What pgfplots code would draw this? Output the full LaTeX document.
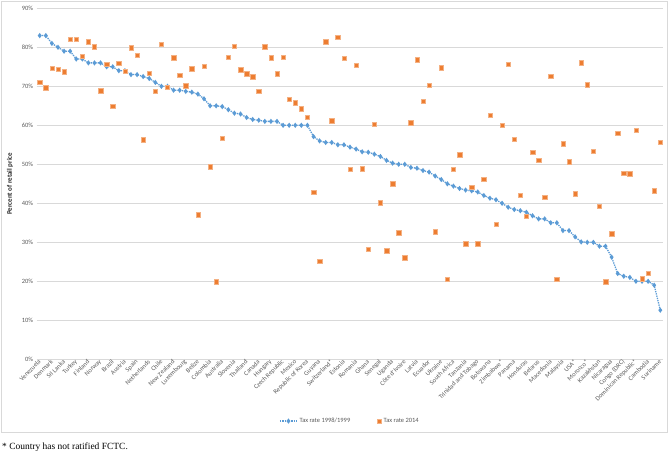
\documentclass[border=0pt]{standalone}
\usepackage{pgfplots}
\usepackage{pgfplotstable}
\pgfplotsset{compat=1.18}
\usepackage{fontspec}
\setmainfont{Carlito}
\newfontfamily\timesf{Liberation Serif}
\definecolor{xblue}{HTML}{5B9BD5}
\definecolor{xorange}{HTML}{ED7D31}
\definecolor{xgrid}{HTML}{D9D9D9}
\definecolor{xtext}{HTML}{595959}

\pgfplotstableread{
i v
0 83
1 83
2 81
3 80
4 79
5 79
6 77
7 77
8 76
9 76
10 76
11 75
12 75
13 74
14 74
15 73
16 73
17 72.5
18 72
19 71
20 70
21 70
22 69
23 69
24 68.7
25 68.5
26 68
27 66.8
28 65
29 65
30 64.8
31 64
32 63.1
33 62.9
34 62
35 61.5
36 61.3
37 61
38 61
39 61
40 60
41 60
42 60
43 60
44 60
45 57.1
46 56
47 55.6
48 55.6
49 55
50 55
51 54.4
52 53.9
53 53.2
54 53.1
55 52.6
56 52
57 51
58 50.3
59 50
60 50
61 49.2
62 49
63 48.4
64 48
65 47
66 46.1
67 45
68 44.4
69 43.8
70 43.4
71 43.2
72 42.9
73 42
74 41.3
75 40.9
76 40
77 39
78 38.4
79 38.1
80 37.7
81 36.8
82 36
83 36
84 35
85 35
86 33
87 33
88 31.4
89 30.1
90 30
91 30
92 29
93 29
94 26.2
95 22
96 21.3
97 21
98 20
99 20
100 20
101 19
102 12.6
}\rateold

\pgfplotstableread{
i v
0 71.0
1 69.6
2 74.7
3 74.4
4 73.7
5 82.1
6 82.1
7 77.7
8 81.4
9 80.2
10 68.9
11 75.6
12 64.9
13 75.9
14 73.9
15 79.9
16 78.0
17 56.3
18 73.4
19 68.8
20 80.8
21 69.8
22 77.3
23 72.8
24 70.2
25 74.5
26 37.1
27 75.2
28 49.4
29 19.9
30 56.7
31 77.4
32 80.3
33 74.3
34 73.2
35 72.5
36 68.8
37 80.2
38 77.3
39 73.2
40 77.4
41 66.7
42 65.8
43 64.3
44 62.0
45 42.9
46 25.1
47 81.4
48 61.2
49 82.6
50 77.2
51 48.7
52 75.4
53 48.9
54 28.3
55 60.3
56 40.2
57 27.8
58 45.0
59 32.5
60 26.1
61 60.7
62 76.8
63 66.2
64 70.3
65 32.7
66 74.8
67 20.6
68 48.7
69 52.5
70 29.6
71 44.1
72 29.6
73 46.2
74 62.6
75 34.7
76 60.0
77 75.7
78 56.5
79 42.0
80 36.7
81 53.1
82 51.1
83 41.5
84 72.6
85 20.6
86 55.3
87 50.7
88 42.5
89 76.0
90 70.4
91 53.3
92 39.3
93 19.9
94 32.2
95 57.9
96 47.7
97 47.6
98 58.8
99 20.7
100 22.0
101 43.2
102 55.7
}\ratenew

\begin{document}
\begin{tikzpicture}[x=1bp,y=1bp]
\useasboundingbox (0,0) rectangle (669,456);
\draw[xgrid, line width=0.75bp] (1.5,23.5) rectangle (667.5,455);
\begin{axis}[
  at={(36.7bp,96.7bp)}, anchor=south west,
  scale only axis, width=626.6bp, height=351bp,
  xmin=-0.5, xmax=102.5, ymin=0, ymax=90,
  ytick={0,10,...,90},
  yticklabel={\pgfmathprintnumber{\tick}\%},
  xtick={0,2,...,102},
  xticklabels={Venezuela,Denmark,Sri Lanka,Turkey,Finland,Norway,Brazil,Austria,Spain,Netherlands,Chile,New Zealand,Luxembourg,Belize,Colombia,Australia,Slovenia,Thailand,Canada,Hungary,Czech Republic,Mexico,Republic of Korea,Guyana,Switzerland*,Estonia,Romania,Ghana,Senegal,Uganda,Côte d’Ivoire,Latvia,Ecuador,Ukraine,South Africa,Tanzania,Trinidad and Tobago,Botswana,Zimbabwe*,Panama,Honduras,Belarus,Macedonia,Malaysia,USA*,Morocco*,Kazakhstan,Nicaragua,Congo (DRC),Dominican Republic*,Cambodia,Suriname},
  ymajorgrids, major grid style={xgrid, line width=0.75bp},
  axis line style={draw=none},
  major tick length=0pt,
  /pgf/number format/assume math mode=true,
  tick label style={font=\fontsize{6.5}{7}\selectfont, text=xtext},
  yticklabel style={inner sep=1bp, xshift=-2.5bp},
  xticklabel style={rotate=45, anchor=east, inner sep=1bp, yshift=-1bp},
  ylabel={Percent of retail price},
  ylabel style={at={(rel axis cs:-0.0426,0.5)}, anchor=center, rotate=0, font=\fontsize{7}{8}\selectfont\bfseries, text=black!85},
  legend style={at={(0.5,-0.176)}, anchor=center, legend columns=2, draw=none, fill=none,
    font=\fontsize{6.5}{7}\selectfont, text=xtext,
    /tikz/every even column/.append style={column sep=25bp}},
  legend cell align=left,
]
\addplot[xblue, densely dotted, line width=1.3bp, mark=diamond*, mark size=1.6bp, mark options={solid}] table[x=i,y=v]{\rateold};
\addlegendentry{Tax rate 1998/1999}
\addplot[only marks, mark=square*, mark size=2.2bp, mark options={fill=xorange, draw=xorange!60!white, line width=0.4bp}] table[x=i,y=v]{\ratenew};
\addlegendentry{Tax rate 2014}
\end{axis}
\node[anchor=west, inner sep=0pt, font=\timesf\fontsize{9.5}{11}\selectfont] at (2,9) {* Country has not ratified FCTC.};
\end{tikzpicture}
\end{document}
